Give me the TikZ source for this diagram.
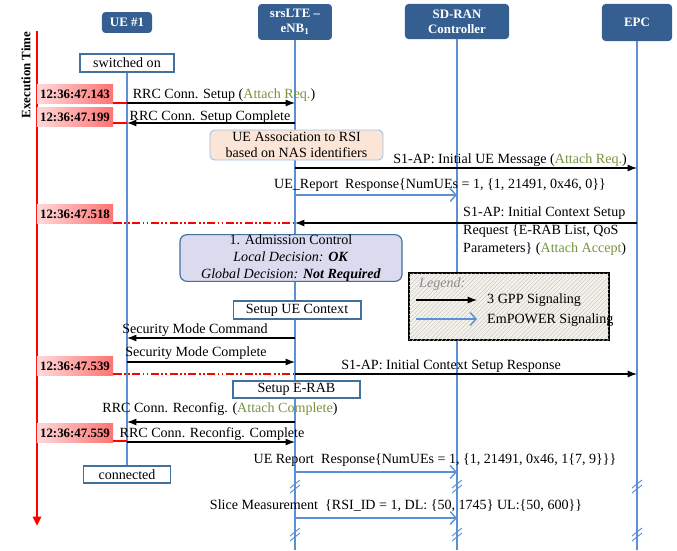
\documentclass[tikz,border=0pt]{standalone}
\usepackage{fontspec}
\setmainfont{Liberation Serif}
\usetikzlibrary{arrows.meta,patterns.meta,calc,positioning}
\definecolor{lifeblue}{HTML}{5B8FD6}
\definecolor{headblue}{HTML}{365F91}
\definecolor{attgreen}{HTML}{77933C}
\definecolor{boxline}{HTML}{41719C}
\definecolor{peach}{HTML}{FBE5D6}
\definecolor{peachline}{HTML}{9DC3E6}
\definecolor{lavender}{HTML}{DCDAEE}
\definecolor{legfill}{HTML}{F4F2EA}
\newcommand{\att}[1]{\textcolor{attgreen}{#1}}

\begin{document}
\begin{tikzpicture}[x=0.03cm,y=-0.03cm,inner sep=0pt,
    font=\fontsize{12}{15}\selectfont,
    head/.style={rounded corners=3pt,fill=headblue,text=white,align=center,
      font=\fontsize{11}{13}\selectfont\bfseries},
    life/.style={lifeblue,line width=0.9pt},
    msg/.style={line width=1pt,-{Latex[length=8pt,width=6pt]}},
    emp/.style={lifeblue,line width=1.2pt,-{Straight Barb[length=5pt,width=11pt,line width=1.2pt]}},
    tline/.style={red,line width=1pt,dash pattern=on 7pt off 2pt on 1.5pt off 2pt on 1.5pt off 2pt},
    stamp/.style={left color=red!15,right color=red!55,minimum width=65pt,minimum height=16pt,
      font=\fontsize{11}{13}\selectfont\bfseries},
    state/.style={draw=boxline,line width=1.1pt,fill=white},
    tick/.style={lifeblue,line width=0.8pt}]
\useasboundingbox (0,0) rectangle (677,550);
%entities
\node[head,minimum width=42.7pt,minimum height=17.9pt] (ue) at (127,22.5) {UE \#1};
\node[head,minimum width=63pt,minimum height=30.7pt] (enb) at (295,22) {srsLTE –\\eNB\textsubscript{1}};
\node[head,minimum width=88.8pt,minimum height=29.9pt] (sdran) at (457,21.5) {SD-RAN\\Controller};
\node[head,minimum width=59.8pt,minimum height=31.6pt] (epc) at (637,22.5) {EPC};
\node[state,minimum width=80pt,minimum height=15.4pt] (on) at (127,63) {switched on};
\node[state,minimum width=74pt,minimum height=14.5pt] (conn) at (127,474.5) {connected};
%lifelines
\draw[life] (on) -- (conn);
\draw[life] (enb) -- (enb |- 0,550);
\draw[life] (sdran) -- (sdran |- 0,550);
\draw[life] (epc) -- (epc |- 0,550);
\foreach \x in {295,457,637}
  \foreach \y in {485,533}
  {\draw[tick] (\x-5,\y+3) -- (\x+5,\y-5);
   \draw[tick] (\x-5,\y+8) -- (\x+5,\y);}
%time axis
\draw[red,line width=2pt,-{Triangle[length=8pt,width=7pt]}] (37,31) -- (37,526);
\node[rotate=90,font=\fontsize{11}{13}\selectfont\bfseries] (exec) at (26,75) {Execution Time};
\node[stamp] (t1) at (75,94) {12:36:47.143};
\node[stamp] (t2) at (75,117) {12:36:47.199};
\node[stamp] (t3) at (75,214) {12:36:47.518};
\node[stamp] (t4) at (75,366) {12:36:47.539};
\node[stamp] (t5) at (75,433) {12:36:47.559};
\draw[red,line width=1pt] (t1.east |- 0,103) -- (ue |- 0,103);
\draw[red,line width=1pt] (t2.east |- 0,123) -- (ue |- 0,123);
\draw[tline] (t3.east |- 0,223) -- (enb |- 0,223);
\draw[tline] (t4.east |- 0,374) -- (enb |- 0,374);
\draw[red,line width=1pt] (t5.east |- 0,441) -- (ue |- 0,441);
%procedures
\node[rounded corners=4pt,draw=peachline,fill=peach,line width=0.8pt,align=center,
  font=\fontsize{12}{13.7}\selectfont,minimum width=147.7pt,minimum height=25.6pt] (assoc) at (296.5,145)
  {UE Association to RSI\\based on NAS identifiers};
\node[rounded corners=6pt,draw=boxline,fill=lavender,line width=1pt,align=center,
  font=\fontsize{12}{14.5}\selectfont,minimum width=189.5pt,minimum height=37.5pt] (adm) at (291,258)
  {1. Admission Control\\\textit{Local Decision:} \textbf{\textit{OK}}\\\textit{Global Decision:} \textbf{\textit{Not Required}}};
\node[state,minimum width=109pt,minimum height=15.4pt] (ctx) at (297,310) {Setup UE Context};
\node[state,minimum width=108.4pt,minimum height=14.5pt] (erab) at (296.5,389.5) {Setup E-RAB};
%messages
\draw[msg] (ue |- 0,103) -- (enb |- 0,103);
\node (m1) at (224,95) {RRC Conn. Setup (\att{Attach Req.})};
\draw[msg] (enb |- 0,123) -- (ue |- 0,123);
\node (m2) at (210,117) {RRC Conn. Setup Complete};
\draw[msg] (enb |- 0,168) -- (epc |- 0,168);
\node (m3) at (510,160) {S1-AP: Initial UE Message (\att{Attach Req.})};
\draw[emp] (enb |- 0,195) -- (sdran |- 0,195);
\node (m4) at (440,185) {UE\_Report\ \ Response\{NumUEs = 1, \{1, 21491, 0x46, 0\}\}};
\draw[msg] (epc |- 0,223) -- (enb |- 0,223);
\node[anchor=north west,align=left] (m5) at (463,207)
  {S1-AP: Initial Context Setup\\Request \{E-RAB List, QoS\\Parameters\} (\att{Attach Accept})};
\draw[msg] (enb |- 0,338) -- (ue |- 0,338);
\node (m6) at (195,330) {Security Mode Command};
\draw[msg] (ue |- 0,362) -- (enb |- 0,362);
\node (m7) at (196,353) {Security Mode Complete};
\draw[msg] (enb |- 0,374) -- (epc |- 0,374);
\node (m8) at (451,366) {S1-AP: Initial Context Setup Response};
\draw[msg] (enb |- 0,422) -- (ue |- 0,422);
\node (m9) at (220,409) {RRC Conn. Reconfig. (\att{Attach Complete})};
\draw[msg] (ue |- 0,442) -- (enb |- 0,442);
\node (m10) at (212,434) {RRC Conn. Reconfig. Complete};
\draw[emp] (enb |- 0,472) -- (sdran |- 0,472);
\node (m11) at (435,460) {UE Report\ \ Response\{NumUEs = 1, \{1, 21491, 0x46, 1\{7, 9\}\}\}};
\draw[emp] (enb |- 0,518) -- (sdran |- 0,518);
\node (m12) at (396,506) {Slice Measurement\ \ \{RSI\_ID = 1, DL: \{50, 1745\} UL:\{50, 600\}\}};
%legend
\node[draw,line width=1pt,fill=legfill,minimum width=170.7pt,minimum height=57.2pt,
  postaction={pattern={Lines[angle=45,distance=2.5pt,line width=0.4pt]},pattern color=black!22}]
  (legend) at (509,306.5) {};
\node[anchor=west,text=black!45,font=\fontsize{12}{15}\selectfont\itshape] (legt) at (419,284) {Legend:};
\coordinate (la) at (416,300);
\coordinate (lb) at (477,300);
\coordinate (lc) at (416,319);
\coordinate (ld) at (477,319);
\draw[msg] (la) -- (lb);
\draw[emp] (lc) -- (ld);
\node[anchor=west] (lg1) at (487,300) {3 GPP Signaling};
\node[anchor=west] (lg2) at (487,320) {EmPOWER Signaling};
\end{tikzpicture}
\end{document}
